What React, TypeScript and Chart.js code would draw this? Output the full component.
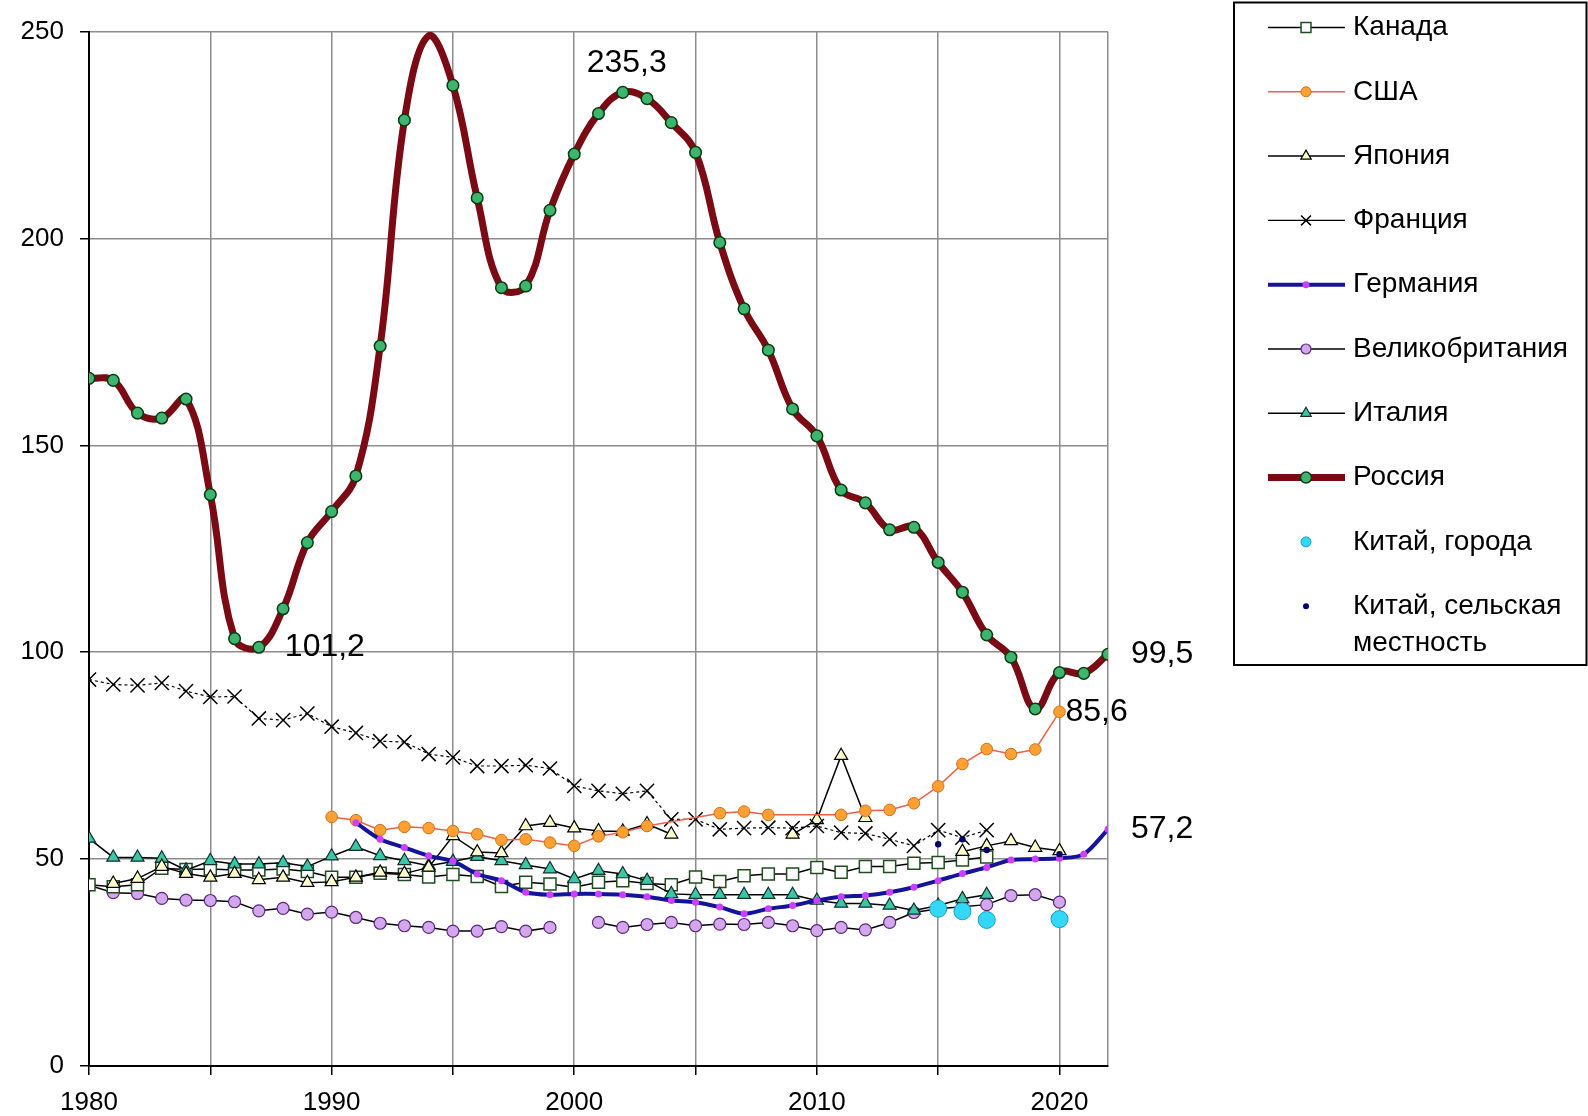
import React, { useEffect, useRef } from 'react';
import { Chart, registerables } from 'chart.js';

Chart.register(...registerables);

const FONT = '"Liberation Sans", Arial, sans-serif';

const YEARS = [
  1980, 1981, 1982, 1983, 1984, 1985, 1986, 1987, 1988, 1989,
  1990, 1991, 1992, 1993, 1994, 1995, 1996, 1997, 1998, 1999,
  2000, 2001, 2002, 2003, 2004, 2005, 2006, 2007, 2008, 2009,
  2010, 2011, 2012, 2013, 2014, 2015, 2016, 2017, 2018, 2019,
  2020, 2021, 2022,
];
const X_TICKS = [1980, 1985, 1990, 1995, 2000, 2005, 2010, 2015, 2020, 2022];
const X_LABELED = [1980, 1990, 2000, 2010, 2020];
const Y_TICKS = [0, 50, 100, 150, 200, 250];

const CANADA = [
  43.8, 43.3, 43.8, 47.8, 47.5, 47.6, 47.4, 47.4, 47.6, 47.0,
  45.6, 45.6, 46.6, 46.3, 45.7, 46.3, 45.8, 43.4, 44.4, 44.0,
  43.2, 44.4, 44.8, 44.1, 43.8, 45.7, 44.6, 46.0, 46.4, 46.4,
  48.0, 46.8, 48.2, 48.2, 49.0, 49.2, 49.8, 50.5, null, null,
  null, null, null,
];
const USA = [
  null, null, null, null, null, null, null, null, null, null,
  60.2, 59.4, 57.0, 57.8, 57.5, 56.8, 56.0, 54.6, 54.8, 54.0,
  53.2, 55.5, 56.5, 58.0, null, null, 61.1, 61.5, 60.7, null,
  null, 60.7, 61.7, 61.9, 63.5, 67.6, 73.0, 76.6, 75.4, 76.5,
  85.6, null, null,
];
const JAPAN = [
  null, 44.1, 45.3, 48.2, 46.5, 45.6, 46.5, 45.0, 45.6, 44.3,
  44.5, 45.6, 46.8, 46.5, 48.0, 55.6, 51.7, 51.5, 58.0, 58.8,
  57.5, 56.8, 56.7, 58.5, 56.0, null, null, null, null, 56.0,
  59.5, 75.0, 60.0, null, null, null, 51.8, 53.2, 54.4, 52.8,
  52.0, null, null,
];
const FRANCE = [
  93.4, 92.2, 92.0, 92.6, 90.6, 89.2, 89.3, 84.0, 83.6, 85.2,
  82.0, 80.5, 78.5, 78.3, 75.4, 74.6, 72.5, 72.5, 72.7, 71.9,
  67.7, 66.5, 65.8, 66.5, 59.6, 59.6, 57.2, 57.5, 57.6, 57.5,
  58.0, 56.4, 56.2, 54.8, 53.2, 57.0, 55.2, 57.0, null, null,
  null, null, null,
];
const GERMANY = [
  null, null, null, null, null, null, null, null, null, null,
  null, 58.8, 54.8, 52.8, 50.8, 49.5, 46.4, 44.8, 42.0, 41.4,
  41.6, 41.6, 41.4, 40.9, 40.0, 39.6, 38.4, 36.8, 38.0, 38.8,
  40.0, 40.9, 41.2, 42.0, 43.2, 44.8, 46.5, 48.0, 49.8, 50.0,
  50.2, 51.2, 57.2,
];
const UK = [
  43.7, 41.9, 41.7, 40.5, 40.1, 40.0, 39.7, 37.5, 38.1, 36.7,
  37.2, 35.9, 34.5, 33.9, 33.5, 32.6, 32.6, 33.7, 32.6, 33.5,
  null, 34.7, 33.5, 34.2, 34.7, 33.9, 34.3, 34.2, 34.7, 33.9,
  32.7, 33.5, 32.9, 34.7, 37.1, 38.0, 38.5, 39.0, 41.2, 41.4,
  39.6, null, null,
];
const ITALY = [
  55.0, 50.4, 50.4, 50.2, 47.3, 49.6, 48.8, 48.8, 49.1, 48.2,
  50.7, 53.0, 50.8, 49.6, 48.4, 49.4, 50.6, 49.6, 48.6, 47.6,
  45.2, 47.2, 46.4, 44.8, 41.6, 41.4, 41.4, 41.4, 41.4, 41.4,
  40.0, 39.3, 39.3, 38.8, 37.6, 38.8, 40.4, 41.4, null, null,
  null, null, null,
];
const RUSSIA = [
  166.2, 165.7, 157.8, 156.6, 161.2, 138.1, 103.3, 101.2, 110.5, 126.5,
  134.0, 142.6, 174.0, 228.6, 249.0, 237.0, 209.8, 188.1, 188.5, 206.8,
  220.4, 230.2, 235.3, 233.8, 228.0, 220.8, 199.0, 183.0, 173.0, 158.8,
  152.3, 139.2, 136.1, 129.6, 130.2, 121.7, 114.5, 104.2, 98.8, 86.3,
  95.1, 94.9, 99.5,
];
const CHINA_URBAN = [
  null, null, null, null, null, null, null, null, null, null,
  null, null, null, null, null, null, null, null, null, null,
  null, null, null, null, null, null, null, null, null, null,
  null, null, null, null, null, 38.0, 37.4, 35.3, null, null,
  35.5, null, null,
];
const CHINA_RURAL = [
  null, null, null, null, null, null, null, null, null, null,
  null, null, null, null, null, null, null, null, null, null,
  null, null, null, null, null, null, null, null, null, null,
  null, null, null, null, null, 53.6, 54.8, 52.2, null, null,
  51.2, null, null,
];

// Years whose Russia marker is not shown in the original (apex of the curve)
const RUSSIA_NO_MARKER = [1994];

const LEGEND_NAMES = [
  'Канада',
  'США',
  'Япония',
  'Франция',
  'Германия',
  'Великобритания',
  'Италия',
  'Россия',
  'Китай, города',
  'Китай, сельская\nместность',
];

type LabelDef = { series: number; year: number; dx: number; dy: number; align: CanvasTextAlign };
// series index refers to LEGEND_NAMES order
const VALUE_LABELS: LabelDef[] = [
  { series: 7, year: 2002, dx: 4, dy: -29, align: 'center' },
  { series: 7, year: 1987, dx: 26, dy: 0, align: 'left' },
  { series: 7, year: 2022, dx: 23, dy: 0, align: 'left' },
  { series: 1, year: 2020, dx: 6, dy: 0, align: 'left' },
  { series: 4, year: 2022, dx: 23, dy: 0, align: 'left' },
];

const SERIES_VALUES = [CANADA, USA, JAPAN, FRANCE, GERMANY, UK, ITALY, RUSSIA, CHINA_URBAN, CHINA_RURAL];

const GRID = '#8c8c8c';
const CLEAR = 'rgba(0,0,0,0)';

const toPoints = (vals: (number | null)[]) => YEARS.map((yr, i) => ({ x: yr, y: vals[i] }));

function drawMarker(
  ctx: CanvasRenderingContext2D,
  style: string,
  x: number,
  y: number,
  r: number,
  fill: string,
  stroke: string,
  bw: number
) {
  if (r <= 0) return;
  ctx.save();
  ctx.beginPath();
  ctx.setLineDash([]);
  if (style === 'rect') {
    const s = r * Math.SQRT1_2;
    ctx.rect(x - s, y - s, 2 * s, 2 * s);
  } else if (style === 'triangle') {
    let a = 0;
    ctx.moveTo(x + Math.sin(a) * r, y - Math.cos(a) * r);
    a += (2 * Math.PI) / 3;
    ctx.lineTo(x + Math.sin(a) * r, y - Math.cos(a) * r);
    a += (2 * Math.PI) / 3;
    ctx.lineTo(x + Math.sin(a) * r, y - Math.cos(a) * r);
    ctx.closePath();
  } else if (style === 'crossRot') {
    const o = r * Math.SQRT1_2;
    ctx.moveTo(x - o, y - o);
    ctx.lineTo(x + o, y + o);
    ctx.moveTo(x + o, y - o);
    ctx.lineTo(x - o, y + o);
  } else {
    ctx.arc(x, y, r, 0, Math.PI * 2);
  }
  if (style !== 'crossRot') {
    ctx.fillStyle = fill;
    ctx.fill();
  }
  if (bw > 0) {
    ctx.lineWidth = bw;
    ctx.strokeStyle = stroke;
    ctx.stroke();
  }
  ctx.restore();
}

const valueLabelPlugin = {
  id: 'valueLabels',
  afterDatasetsDraw(chart: any) {
    const { ctx, scales } = chart;
    const xs = scales.x;
    const ys = scales.y;
    ctx.save();
    ctx.font = `32px ${FONT}`;
    ctx.fillStyle = '#000';
    ctx.textBaseline = 'middle';
    VALUE_LABELS.forEach((l) => {
      const v = SERIES_VALUES[l.series][YEARS.indexOf(l.year)];
      if (v == null) return;
      ctx.textAlign = l.align;
      ctx.fillText(
        v.toFixed(1).replace('.', ','),
        xs.getPixelForValue(l.year) + l.dx,
        ys.getPixelForValue(v) + l.dy
      );
    });
    ctx.restore();
  },
};

const legendPlugin = {
  id: 'boxLegend',
  afterDraw(chart: any) {
    const { ctx } = chart;
    const box = { left: 1234, top: 2.5, right: 1586.5, bottom: 665 };
    ctx.save();
    ctx.fillStyle = '#fff';
    ctx.fillRect(box.left, box.top, box.right - box.left, box.bottom - box.top);
    ctx.lineWidth = 2;
    ctx.strokeStyle = '#000';
    ctx.strokeRect(box.left, box.top, box.right - box.left, box.bottom - box.top);
    const lineX0 = 1268;
    const lineX1 = 1345;
    const markX = 1306;
    const textX = 1353;
    const y0 = 27.5;
    const step = 64.3;
    chart.data.datasets.forEach((ds: any, i: number) => {
      const y = y0 + i * step;
      if (ds.showLine !== false) {
        ctx.beginPath();
        ctx.setLineDash(ds.legendDash || []);
        ctx.lineWidth = ds.borderWidth;
        ctx.strokeStyle = ds.borderColor;
        ctx.moveTo(lineX0, y);
        ctx.lineTo(lineX1, y);
        ctx.stroke();
        ctx.setLineDash([]);
      }
      drawMarker(
        ctx,
        ds.pointStyle,
        markX,
        y,
        ds.legendRadius,
        ds.pointBackgroundColor,
        ds.pointBorderColor,
        ds.pointBorderWidth
      );
      ctx.font = `28px ${FONT}`;
      ctx.fillStyle = '#000';
      ctx.textAlign = 'left';
      ctx.textBaseline = 'middle';
      const lines = String(ds.label).split('\n');
      lines.forEach((t, k) => ctx.fillText(t, textX, y + k * 37));
    });
    ctx.restore();
  },
};

export default function App() {
  const ref = useRef<HTMLCanvasElement>(null);

  useEffect(() => {
    const canvas = ref.current;
    if (!canvas) return;

    const base = { tension: 0, spanGaps: false, pointHoverRadius: 0 } as any;

    const datasets: any[] = [
      {
        ...base,
        label: LEGEND_NAMES[0],
        data: toPoints(CANADA),
        borderColor: '#000',
        borderWidth: 1.5,
        pointStyle: 'rect',
        pointRadius: 8.5,
        legendRadius: 7,
        pointBackgroundColor: '#ffffff',
        pointBorderColor: '#1e4d1e',
        pointBorderWidth: 1.5,
        order: 8,
      },
      {
        ...base,
        label: LEGEND_NAMES[1],
        data: toPoints(USA),
        spanGaps: true,
        borderColor: '#f0604a',
        borderWidth: 1.5,
        pointStyle: 'circle',
        pointRadius: 5.8,
        legendRadius: 5,
        pointBackgroundColor: '#ffa033',
        pointBorderColor: '#d0701a',
        pointBorderWidth: 1,
        order: 4,
      },
      {
        ...base,
        label: LEGEND_NAMES[2],
        data: toPoints(JAPAN),
        borderColor: '#000',
        borderWidth: 1.5,
        pointStyle: 'triangle',
        pointRadius: 7.5,
        legendRadius: 6,
        pointBackgroundColor: '#ffffcc',
        pointBorderColor: '#000',
        pointBorderWidth: 1.2,
        order: 6,
      },
      {
        ...base,
        label: LEGEND_NAMES[3],
        data: toPoints(FRANCE),
        borderColor: '#000',
        borderWidth: 1.2,
        borderDash: [3, 3],
        pointStyle: 'crossRot',
        pointRadius: 10,
        legendRadius: 7,
        pointBackgroundColor: '#000',
        pointBorderColor: '#000',
        pointBorderWidth: 1.5,
        order: 5,
      },
      {
        ...base,
        label: LEGEND_NAMES[4],
        data: toPoints(GERMANY),
        tension: 0.3,
        borderColor: '#14149a',
        borderWidth: 4,
        pointStyle: 'circle',
        pointRadius: 3.5,
        legendRadius: 3.5,
        pointBackgroundColor: '#cc40ff',
        pointBorderColor: '#cc40ff',
        pointBorderWidth: 0,
        order: 3,
      },
      {
        ...base,
        label: LEGEND_NAMES[5],
        data: toPoints(UK),
        borderColor: '#000',
        borderWidth: 1.5,
        pointStyle: 'circle',
        pointRadius: 6,
        legendRadius: 5,
        pointBackgroundColor: '#d4a6ee',
        pointBorderColor: '#5a2a7a',
        pointBorderWidth: 1.2,
        order: 9,
      },
      {
        ...base,
        label: LEGEND_NAMES[6],
        data: toPoints(ITALY),
        borderColor: '#000',
        borderWidth: 1.5,
        pointStyle: 'triangle',
        pointRadius: 7.5,
        legendRadius: 6,
        pointBackgroundColor: '#3cc6a8',
        pointBorderColor: '#12302a',
        pointBorderWidth: 1.2,
        order: 7,
      },
      {
        ...base,
        label: LEGEND_NAMES[7],
        data: toPoints(RUSSIA),
        tension: 0.4,
        borderColor: '#7a0a14',
        borderWidth: 7,
        pointStyle: 'circle',
        pointRadius: (c: any) => (c.raw && RUSSIA_NO_MARKER.includes(c.raw.x) ? 0 : 5.8),
        legendRadius: 5.5,
        pointBackgroundColor: '#3db56e',
        pointBorderColor: '#0b3a12',
        pointBorderWidth: 1.5,
        order: 0,
      },
      {
        ...base,
        label: LEGEND_NAMES[8],
        data: toPoints(CHINA_URBAN),
        showLine: false,
        borderColor: '#1aa0cc',
        borderWidth: 0,
        pointStyle: 'circle',
        pointRadius: 8.5,
        legendRadius: 5,
        pointBackgroundColor: '#33d8f6',
        pointBorderColor: '#1a9ccc',
        pointBorderWidth: 1,
        order: 1,
      },
      {
        ...base,
        label: LEGEND_NAMES[9],
        data: toPoints(CHINA_RURAL),
        showLine: false,
        borderColor: '#000066',
        borderWidth: 0,
        pointStyle: 'circle',
        pointRadius: 3.2,
        legendRadius: 3,
        pointBackgroundColor: '#000066',
        pointBorderColor: '#000066',
        pointBorderWidth: 0,
        order: 2,
      },
    ];
    datasets[3].legendDash = [];

    const chart = new Chart(canvas, {
      type: 'line',
      data: { datasets },
      options: {
        animation: false,
        responsive: false,
        events: [],
        layout: { padding: { left: 0, right: 480, top: 28, bottom: 0 } },
        plugins: {
          legend: { display: false },
          tooltip: { enabled: false },
        },
        scales: {
          x: {
            type: 'linear',
            min: 1980,
            max: 2022,
            afterBuildTicks: (s: any) => {
              s.ticks = X_TICKS.map((v) => ({ value: v }));
            },
            afterFit: (s: any) => {
              s.height = 50;
            },
            grid: {
              color: (c: any) => (c.tick && c.tick.value === 1980 ? CLEAR : GRID),
              lineWidth: 1.5,
              tickLength: 9,
              tickWidth: 1.5,
              tickColor: (c: any) => (c.tick && c.tick.value === 2022 ? CLEAR : '#000'),
            },
            border: { display: true, color: '#000', width: 2 },
            ticks: {
              autoSkip: false,
              maxRotation: 0,
              minRotation: 0,
              padding: 12,
              color: '#000',
              font: { family: FONT, size: 26 },
              callback: (v: any) => (X_LABELED.includes(Number(v)) ? String(v) : ''),
            },
          },
          y: {
            type: 'linear',
            min: 0,
            max: 250,
            afterBuildTicks: (s: any) => {
              s.ticks = Y_TICKS.map((v) => ({ value: v }));
            },
            afterFit: (s: any) => {
              s.width = 89;
            },
            grid: {
              color: (c: any) => (c.tick && c.tick.value === 0 ? CLEAR : GRID),
              lineWidth: 1.5,
              tickLength: 9,
              tickWidth: 1.5,
              tickColor: '#000',
            },
            border: { display: true, color: '#000', width: 2 },
            ticks: {
              padding: 16,
              color: '#000',
              font: { family: FONT, size: 26 },
              callback: (v: any) => String(v),
            },
          },
        },
      } as any,
      plugins: [valueLabelPlugin, legendPlugin],
    });

    return () => chart.destroy();
  }, []);

  return (
    <div
      style={{
        position: 'absolute',
        left: 0,
        top: 0,
        width: 1588,
        height: 1116,
        background: '#ffffff',
      }}
    >
      <canvas ref={ref} width={1588} height={1116} style={{ display: 'block', width: 1588, height: 1116 }} />
    </div>
  );
}
